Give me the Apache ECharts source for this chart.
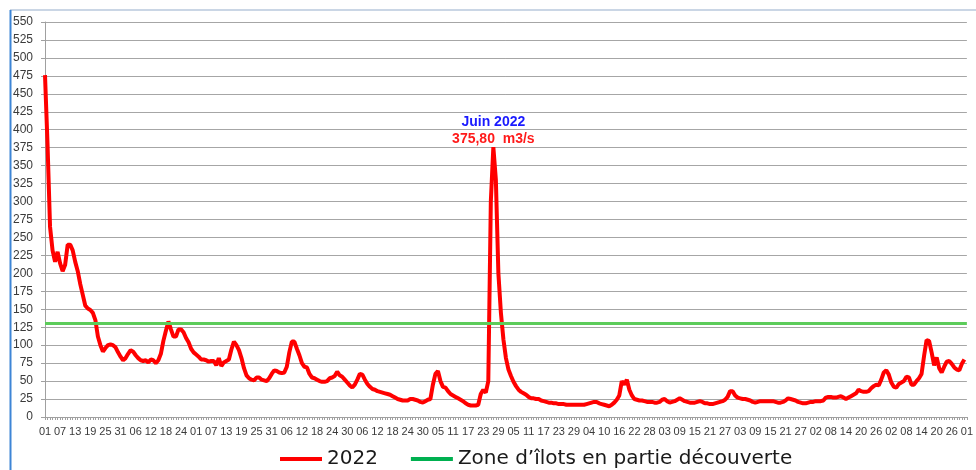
<!DOCTYPE html>
<html>
<head>
<meta charset="utf-8">
<title>Débits 2022</title>
<script src="https://cdn.jsdelivr.net/npm/echarts@6/dist/echarts.min.js"></script>
<style>
  html, body { margin: 0; padding: 0; background: #fff; }
  #chart { width: 976px; height: 470px; }
</style>
</head>
<body>
<div id="chart"></div>
<script>
// débits journaliers (m3/s), un tableau par mois
var jan = [476, 380, 265, 232, 216, 230, 214, 203, 212, 240, 240, 232, 216, 203, 185, 170, 155, 151, 149, 145, 135, 112, 100, 91, 96, 100, 101, 100, 97, 90, 84]
var feb = [79, 82, 88, 93, 91, 86, 82, 79, 78, 79, 76, 80, 79, 75, 79, 88, 106, 120, 133, 122, 112, 112, 122, 122, 118, 110, 104, 95, 90]
var mar = [87, 84, 80, 80, 79, 77, 78, 78, 72, 82, 71, 76, 78, 80, 94, 105, 100, 93, 82, 68, 58, 54, 52, 51, 55, 55, 52, 51, 50, 54, 60]
var apr = [65, 64, 62, 61, 62, 70, 90, 105, 105, 95, 86, 75, 70, 69, 60, 55, 54, 52, 50, 49, 49, 50, 54, 55, 57, 63, 58, 56, 52, 48]
var may = [44, 41, 45, 52, 60, 59, 52, 46, 42, 39, 38, 36, 35, 34, 33, 32, 31, 29, 27, 25, 24, 23, 23, 23, 25, 25, 24, 23, 21, 20, 22]
var jun = [24, 25, 45, 60, 64, 50, 42, 41, 36, 32, 30, 28, 26, 24, 22, 19, 17, 16, 16, 16, 17, 32, 38, 34, 50, 300, 375.8, 330, 200, 145]
var jul = [108, 82, 66, 57, 49, 43, 38, 35, 33, 31, 28, 26, 26, 25, 25, 23, 22, 21, 20, 20, 19, 19, 18, 18, 18, 17, 17, 17, 17, 17, 17]
var aug = [17, 17, 18, 19, 20, 21, 21, 19, 18, 17, 16, 15, 17, 20, 24, 30, 50, 45, 52, 38, 30, 25, 24, 23, 23, 22, 21, 21, 21, 20, 20]
var sep = [21, 24, 25, 22, 20, 21, 22, 24, 26, 24, 22, 21, 20, 20, 20, 21, 22, 21, 19, 19, 18, 18, 19, 20, 21, 22, 24, 28, 36, 36]
var oct = [30, 27, 26, 25, 25, 24, 23, 21, 20, 21, 22, 22, 22, 22, 22, 22, 21, 20, 20, 21, 23, 26, 25, 24, 23, 21, 20, 19, 19, 20, 21]
var nov = [21, 22, 22, 22, 23, 27, 28, 28, 27, 27, 28, 29, 27, 25, 27, 29, 31, 33, 38, 36, 35, 35, 36, 40, 43, 45, 44, 52, 62, 65]
var dec = [59, 48, 42, 41, 46, 48, 50, 56, 55, 45, 45, 50, 54, 60, 85, 107, 106, 90, 72, 83, 68, 62, 70, 77, 78, 74, 69, 66, 65, 74, 80]

// libellés de l'axe X (un tous les 6 jours)
var tickLabels = ['01', '07', '13', '19', '25', '31', '06', '12', '18', '24',
  '01', '07', '13', '19', '25', '31', '06', '12', '18', '24', '30',
  '06', '12', '18', '24', '30', '05', '11', '17', '23', '29',
  '05', '11', '17', '23', '29', '04', '10', '16', '22', '28',
  '03', '09', '15', '21', '27', '03', '09', '15', '21', '27',
  '02', '08', '14', '20', '26', '02', '08', '14', '20', '26', '01']
var tickStep = 6

var zoneLevel = 130
var peakLabel = ['Juin 2022', '375,80  m3/s']

var flow = [].concat(jan, feb, mar, apr, may, jun, jul, aug, sep, oct, nov, dec)

// pic de juin
var junStart = [].concat(jan, feb, mar, apr, may).length
var peakIndex = junStart + jun.indexOf(Math.max.apply(null, jun))

var categories = []
for (var i = 0; i <= (tickLabels.length - 1) * tickStep; i++) {
  categories.push(String(i))
}

var axisFont = 'Liberation Sans, Arial, sans-serif'
var noteFont = 'Liberation Sans, Arial, sans-serif'

var chart = echarts.init(document.getElementById('chart'), null, { renderer: 'canvas' })
chart.setOption({
  backgroundColor: '#fff',
  animation: false,
  graphic: [
    { type: 'line', shape: { x1: 10, y1: 10, x2: 976, y2: 10 }, style: { stroke: '#b9c9dc', lineWidth: 1.5 } },
    { type: 'line', shape: { x1: 10.5, y1: 10, x2: 10.5, y2: 470 }, style: { stroke: '#3d85d6', lineWidth: 2 } }
  ],
  grid: {
    left: 45,
    right: 8,
    top: 22,
    bottom: 53,
    containLabel: false
  },
  legend: {
    left: 275,
    top: 444,
    icon: 'rect',
    itemWidth: 42,
    itemHeight: 4,
    itemGap: 33,
    textStyle: {
      fontFamily: 'DejaVu Sans, sans-serif',
      fontSize: 20,
      color: '#1a1a1a'
    },
    data: [
      { name: '2022', itemStyle: { color: '#ff0000' } },
      { name: 'Zone d’îlots en partie découverte', itemStyle: { color: '#00b050' } }
    ]
  },
  xAxis: {
    type: 'category',
    data: categories,
    boundaryGap: false,
    axisLine: { lineStyle: { color: '#a0a0a0', width: 1 } },
    axisTick: {
      interval: 0,
      length: 3,
      lineStyle: { color: '#a0a0a0' }
    },
    axisLabel: {
      interval: tickStep - 1,
      margin: 9,
      fontFamily: axisFont,
      fontSize: 11,
      color: '#3a3a3a',
      formatter: function(v, idx) {
        return tickLabels[idx / tickStep] || ''
      }
    },
    splitLine: { show: false }
  },
  yAxis: {
    type: 'value',
    min: 0,
    max: 550,
    interval: 25,
    axisLine: { show: true, lineStyle: { color: '#a0a0a0', width: 1 } },
    axisTick: { show: true, length: 4, lineStyle: { color: '#a0a0a0' } },
    axisLabel: {
      margin: 12,
      fontFamily: axisFont,
      fontSize: 12,
      color: '#3a3a3a'
    },
    splitLine: { lineStyle: { color: '#a6a6a6', width: 1 } }
  },
  series: [
    {
      name: '2022',
      type: 'line',
      data: flow,
      showSymbol: false,
      color: '#ff0000',
      lineStyle: { color: '#ff0000', width: 4 },
      markPoint: {
        silent: true,
        symbol: 'circle',
        symbolSize: 1,
        itemStyle: { color: 'rgba(0,0,0,0)' },
        label: {
          show: true,
          position: 'top',
          distance: -1,
          formatter: '{a|' + peakLabel[0] + '}\n{b|' + peakLabel[1] + '}',
          rich: {
            a: { color: '#1a1aff', fontSize: 14, fontWeight: 'bold', lineHeight: 17, fontFamily: noteFont },
            b: { color: '#ff1a1a', fontSize: 14, fontWeight: 'bold', lineHeight: 17, fontFamily: noteFont }
          }
        },
        data: [{ coord: [categories[peakIndex], flow[peakIndex]] }]
      },
      z: 3
    },
    {
      name: 'Zone d’îlots en partie découverte',
      type: 'line',
      data: [],
      color: '#00b050',
      markLine: {
        silent: true,
        symbol: 'none',
        label: { show: false },
        lineStyle: { color: '#5ccc5a', width: 3, type: 'solid' },
        data: [{ yAxis: zoneLevel }]
      },
      z: 2
    }
  ]
})
</script>
</body>
</html>
